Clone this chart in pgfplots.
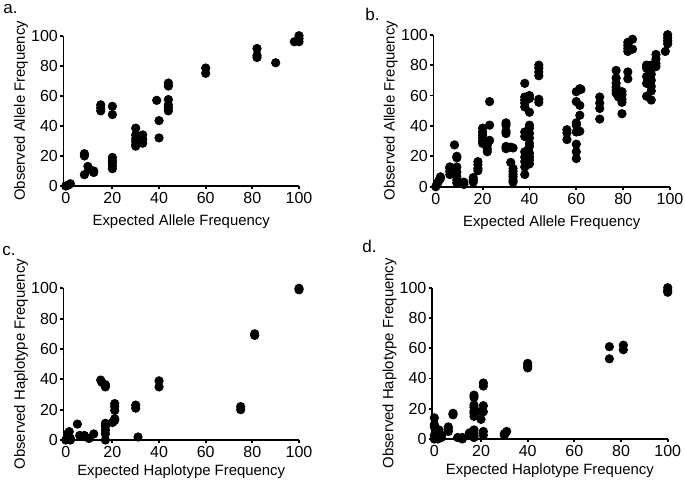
\documentclass[border=0pt]{standalone}
\usepackage{fontspec}
\setmainfont{Liberation Sans}
\usepackage{pgfplots}
\pgfplotsset{compat=1.18}
\begin{document}
\begin{tikzpicture}
\useasboundingbox (0,0) rectangle (342.5pt,242pt);
\pgfplotsset{
 panel/.style={
  scale only axis, anchor=south west,
  xmin=-1, xmax=100, ymin=0, ymax=100,
  axis lines*=left, axis line style={line width=0.9pt, black},
  xtick={0,20,...,100}, ytick={0,20,...,100},
  tick align=outside, major tick length=1.6pt,
  every tick/.style={line width=0.9pt, black},
  tick label style={font=\fontsize{8}{9}\selectfont},
  label style={font=\fontsize{7.45}{8}\selectfont},
  /pgf/number format/assume math mode=true,
  yticklabel style={inner sep=1pt},
  xticklabel style={inner sep=1.5pt},
  ylabel style={at={(axis description cs:-0.18,0.5)}, anchor=center},
  clip=false,
 },
 top/.style={xlabel style={at={(axis description cs:0.5,-0.235)}, anchor=center}},
 bot/.style={xlabel style={at={(axis description cs:0.5,-0.21)}, anchor=center}},
 dots/.style={only marks, mark=*, mark size=2.1pt, black, mark options={fill=black, draw=black}}
}
% ---------- a ----------
\begin{axis}[panel, top, at={(31.7pt,149pt)}, width=117.8pt, height=75.15pt,
  xlabel={Expected Allele Frequency}, ylabel={Observed Allele Frequency}]
\addplot[dots] table {
0 0
1 0.5
2 1.5
8 7.5
8 20
8 21.5
9.5 13
10 11
12 10
12 9
15 54
15 52
15 50
20 53
20 47.5
20 19
20 17
20 15.5
20 13.5
20 11.5
30 38.5
30 34
30 31.5
30 29.5
30 27.5
30 26.5
33 34
33 31
33 28.5
39 57
40 43.5
40 32
44 68.5
44 66.5
44 57.5
44 54
44 52
44 50
60 78.5
60 75
82 91.5
82 87
82 85.5
90 82
98 96
100 100
100 98
100 96
};
\end{axis}
% ---------- b ----------
\begin{axis}[panel, top, at={(216.7pt,148.65pt)}, width=118.3pt, height=76pt,
  xlabel={Expected Allele Frequency}, ylabel={Observed Allele Frequency}]
\addplot[dots] table {
0 0
0.5 1.5
1 3
1.5 4.5
2 5.5
2 6.5
6 8
6 10
6 12
6 13
7 9
7 11
8 27.5
9 20
9 19
9 13
9 9.5
9 6.5
9 4.5
9 2.5
12 3
12 1.5
16 6
16 4.5
16 3
18 16.5
18 14.5
18 12
18 10.5
20 38.5
20 36
20 34
20 32
20 30
20 28.5
22 29.5
22 27.5
22 25
22 23
23 56
23 40.5
23 30.5
30 42
30 40.5
30 36.5
30 35
30 26.5
30 25
32 26
32 16
33 25.5
33 12
33 10
33 8
33 6.5
33 4.5
33 3
38 68
38 59
38 57
38 55
38 52.5
38 36
38 33
38 23
38 19.5
38 16.5
38 13
38 8
40 60
40 58
40 49
40 40.5
40 38.5
40 35
40 32
40 28.5
40 26.5
40 22
40 19.5
40 17.5
40 15
44 80
44 78
44 75.5
44 73
44 57.5
44 55.5
56 37.5
56 35.5
56 31
60 62.5
60 56
60 42
60 40.5
60 36
60 28
60 23
60 18.5
61.5 64.5
61.5 53.5
61.5 47
61.5 36.5
62 64
70 59
70 55
70 51.5
70 44.5
77 76.5
77 71.5
77 68
77 65.5
77 63.5
77 61.5
78 59
79.5 62.5
79.5 60.5
79.5 57.5
79.5 55.5
79.5 48
82 95
82 93
82 91
82 89
82 75.5
82 71
84 97
84 90.5
90 80
90 78
90 72.5
90 68
90 59.5
92 80
92 77
92 74
92 70
92 66
92 63
92 57
94 87
94 84
94 81
94 79
98 89
99 100
99 98
99 96
99 94
};
\end{axis}
% ---------- c ----------
\begin{axis}[panel, bot, at={(31.7pt,22pt)}, width=117.8pt, height=75.85pt,
  xlabel={Expected Haplotype Frequency}, ylabel={Observed Haplotype Frequency}]
\addplot[dots] table {
0 0
0.5 1
1 2.5
1 4.5
1.5 5.5
2 1
2 0
5 10.5
6 3
8 3
10 1
12 4
15 39.5
15.5 38
17 36.5
17 35
17 11
17 9
17 6.5
17 4
17 0
20 11.5
20.5 12.5
21 24
21 22
21 19.5
21 14
21 13
30 23
30 21
31 2
40 39
40 35
75 22
75 20
81 70
81 69
100 100
100 99
};
\end{axis}
% ---------- d ----------
\begin{axis}[panel, bot, at={(216pt,22.5pt)}, width=117.85pt, height=75.65pt,
  xlabel={Expected Haplotype Frequency}, ylabel={Observed Haplotype Frequency}]
\addplot[dots] table {
0 14
0 9.5
0 8
0 2.5
0 0
1.5 5
1.5 3.5
1.5 1.5
1.5 0
2 6
3 1
3 2.5
6 8
6 6.5
6 5
8 17
8 16
10 1
12 1
12 0
15 4
15 2.5
16 4.5
17 29
17 27.5
17 22.5
17 21
17 18.5
17 17
17 15
17 6
17 4
17 2.5
17 1
20 13
20 18
21 37
21 35
21 22
21 18
21 5
21 2.5
30 2.5
30 3.5
31 5
40 50
40 48.5
40 47
75 61
75 53
81 62
81 59
100 100
100 98
100 97
};
\end{axis}
\node[anchor=base west, inner sep=0pt, font=\fontsize{8.5}{9}\selectfont] at (1.5pt,235.5pt) {a.};
\node[anchor=base west, inner sep=0pt, font=\fontsize{8.5}{9}\selectfont] at (182.5pt,232pt) {b.};
\node[anchor=base west, inner sep=0pt, font=\fontsize{8.5}{9}\selectfont] at (1pt,114.5pt) {c.};
\node[anchor=base west, inner sep=0pt, font=\fontsize{8.5}{9}\selectfont] at (181pt,116pt) {d.};
\end{tikzpicture}
\end{document}
